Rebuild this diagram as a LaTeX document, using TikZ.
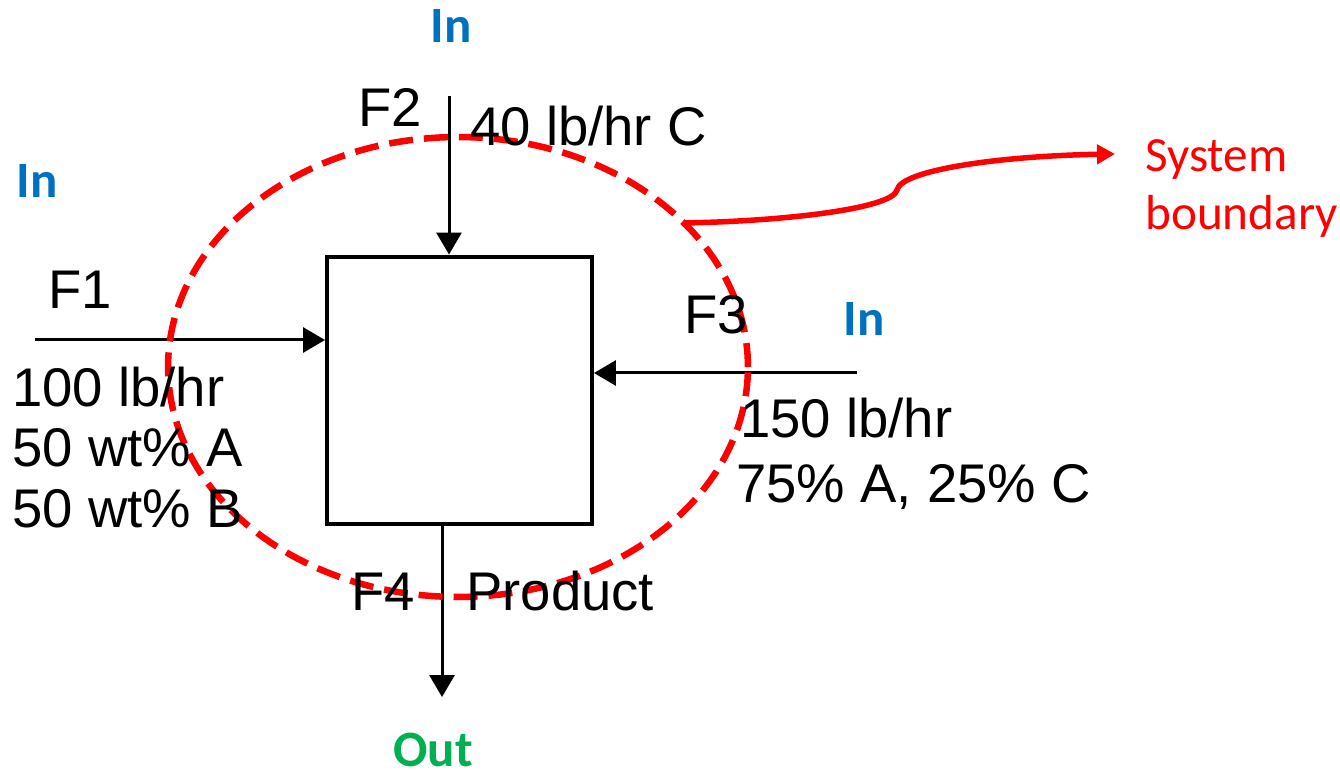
\documentclass[tikz,border=0pt]{standalone}
\usepackage{fontspec}
\setmainfont{Liberation Sans}
\newfontfamily\calfont{Carlito}
\usetikzlibrary{arrows.meta,shapes.geometric}
\definecolor{inblue}{HTML}{0070C0}
\definecolor{outgreen}{HTML}{00B050}
\definecolor{bred}{HTML}{FF0000}
\tikzset{
  lbl/.style={inner sep=0pt, anchor=base west, font=\fontsize{31}{35}\selectfont},
  dirlbl/.style={inner sep=0pt, anchor=base, font=\calfont\bfseries\fontsize{29}{34}\selectfont},
  redlbl/.style={inner sep=0pt, anchor=base west, text=bred, font=\calfont\fontsize{28}{33}\selectfont},
  flow/.style={line width=0.06cm, -{Triangle[length=0.44cm,width=0.5cm]}},
  unit/.style={draw, line width=0.08cm, minimum width=5.3cm, minimum height=5.36cm, inner sep=0pt},
  boundary/.style={draw=bred, line width=0.13cm, dash pattern=on 0.48cm off 0.22cm},
}
\begin{document}
\begin{tikzpicture}[x=0.02cm,y=-0.02cm]
\useasboundingbox (0,0) rectangle (1340,773);
% process unit
\node[unit] (box) at (459.5,390.5) {};
% stream end points
\coordinate (f2s) at (449,96);
\coordinate (f1s) at (35,340);
\coordinate (f3s) at (857,373);
\coordinate (f4e) at (442,697);
\draw[flow] (f2s) -- (f2s |- box.north);
\draw[flow] (f1s) -- (f1s -| box.west);
\draw[flow] (f3s) -- (f3s -| box.east);
\draw[flow] (f4e |- box.south) -- (f4e);
% system boundary
\node[boundary, ellipse, minimum width=11.6cm, minimum height=9.2cm, inner sep=0pt] (sys) at (458,367) {};
\coordinate (cs) at (684,223);
\coordinate (ck) at (897,190);
\coordinate (ce) at (1115,154);
\draw[bred, line width=0.11cm, -{Triangle[length=0.36cm,width=0.38cm]}]
  (cs) .. controls (790,221) and (893,208) .. (ck)
       .. controls (901,170) and (1000,156) .. (ce);
% labels
\node[lbl] (F2) at (358,127) {F2};
\node[lbl] (F2t) at (470,146) {40 lb/hr C};
\node[lbl] (F1) at (48,309) {F1};
\node[lbl] (F1a) at (12,407) {100 lb/hr};
\node[lbl] (F1b) at (12,467) {50 wt\% A};
\node[lbl] (F1c) at (12,528) {50 wt\% B};
\node[lbl] (F3) at (684,334) {F3};
\node[lbl] (F3a) at (740,438) {150 lb/hr};
\node[lbl] (F3b) at (736,503) {75\% A, 25\% C};
\node[lbl] (F4) at (351,611) {F4};
\node[lbl] (F4t) at (466,611) {Product};
\node[dirlbl, text=inblue] (in2) at (451,43) {In};
\node[dirlbl, text=inblue] (in1) at (37,198) {In};
\node[dirlbl, text=inblue] (in3) at (864,336) {In};
\node[dirlbl, text=outgreen] (out4) at (433,766) {Out};
\node[redlbl] (sb1) at (1145,172) {System};
\node[redlbl] (sb2) at (1145,230) {boundary};
\end{tikzpicture}
\end{document}
